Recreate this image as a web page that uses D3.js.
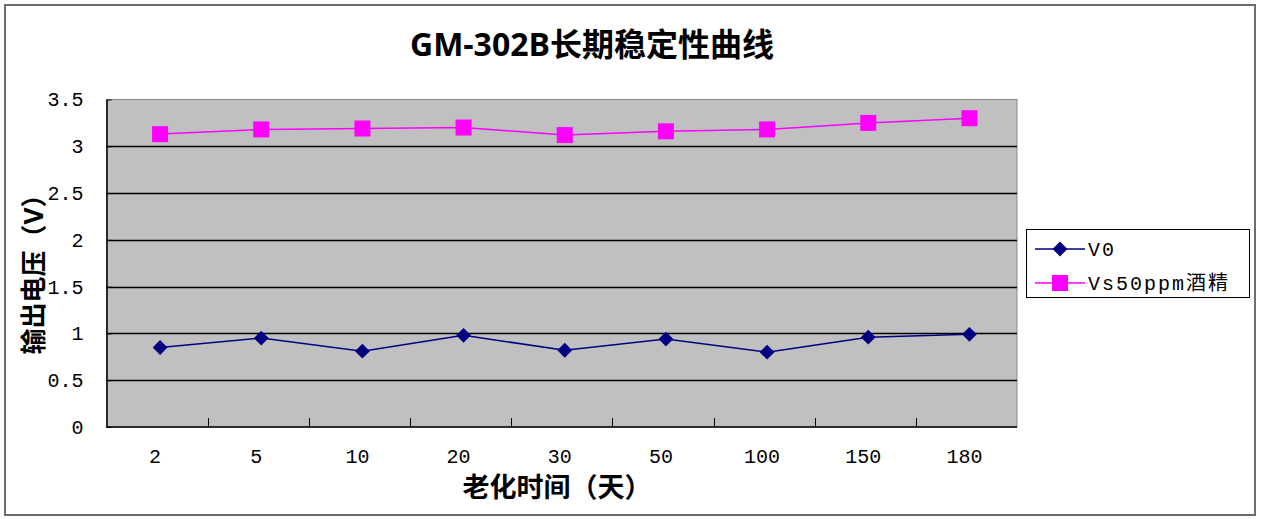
<!DOCTYPE html>
<html><head><meta charset="utf-8">
<script src="https://cdn.jsdelivr.net/npm/d3@7"></script>
<style>body{margin:0;background:#fff}svg{display:block}</style>
</head><body>
<script>
const categories = ["2","5","10","20","30","50","100","150","180"];
const v0 = [0.85,0.95,0.81,0.98,0.82,0.94,0.80,0.96,0.99];
const vs50 = [3.13,3.18,3.19,3.20,3.12,3.16,3.18,3.25,3.30];
const yTicks = [0,0.5,1,1.5,2,2.5,3,3.5];
const seriesNames = ["V0","Vs50ppm酒精"];
const title = "GM-302B长期稳定性曲线";
const xTitle = "老化时间（天）";
const yTitle = "输出电压（V）";

const W = 1261, H = 519;
const m = {left:106.5, right:1017, top:99.5, bottom:427};
const tickFont = "'Liberation Mono','Noto Sans CJK SC',monospace";
const cjkBold = "'Open Sans','Noto Sans CJK SC',sans-serif";

const svg = d3.select("body").append("svg").attr("width",W).attr("height",H);
svg.append("rect").attr("x",5).attr("y",5).attr("width",1250).attr("height",510)
  .attr("fill","#fff").attr("stroke","#6e6e6e").attr("stroke-width",2);

const x = d3.scaleBand().domain(categories).range([m.left,m.right]);
const y = d3.scaleLinear().domain([0,3.5]).range([m.bottom,m.top]);

svg.append("rect").attr("x",m.left).attr("y",m.top).attr("width",m.right-m.left).attr("height",m.bottom-m.top)
  .attr("fill","#c0c0c0").attr("stroke","#8a8a8a").attr("stroke-width",1);

// gridlines
svg.append("g").selectAll("line").data(yTicks.filter(d=>d>0&&d<3.5)).join("line")
  .attr("x1",m.left).attr("x2",m.right).attr("y1",d=>Math.round(y(d))+0.5).attr("y2",d=>Math.round(y(d))+0.5)
  .attr("stroke","#000").attr("stroke-width",1.3);

// y axis
const yAxis = svg.append("g").attr("transform",`translate(${m.left},0)`)
  .call(d3.axisLeft(y).tickValues(yTicks).tickFormat(d=>String(d)).tickSizeInner(-5).tickSizeOuter(0).tickPadding(23));
yAxis.select(".domain").attr("stroke","#000").attr("stroke-width",1.5);
yAxis.selectAll(".tick line").attr("stroke","#000");
yAxis.selectAll("text").attr("font-family",tickFont).attr("font-size",20).attr("fill","#000");

// x axis
const bounds = categories.slice(1).map(c=>x(c));
const xg = svg.append("g");
xg.append("line").attr("x1",m.left).attr("x2",m.right).attr("y1",m.bottom).attr("y2",m.bottom).attr("stroke","#000").attr("stroke-width",1.5);
xg.selectAll("line.t").data(bounds).join("line").attr("class","t")
  .attr("x1",d=>Math.round(d)+0.5).attr("x2",d=>Math.round(d)+0.5).attr("y1",m.bottom).attr("y2",m.bottom-9).attr("stroke","#000");
xg.selectAll("text").data(categories).join("text")
  .attr("x",d=>x(d)+x.bandwidth()/2-2).attr("y",m.bottom+36).attr("text-anchor","middle")
  .attr("font-family",tickFont).attr("font-size",20).text(d=>d);

const cx = d=>x(d)+x.bandwidth()/2+3;
const line = d3.line().x((d,i)=>cx(categories[i])).y(d=>y(d));

// V0
svg.append("path").datum(v0).attr("d",line).attr("fill","none").attr("stroke","#000080").attr("stroke-width",1.5);
svg.append("g").selectAll("path").data(v0).join("path")
  .attr("d",d3.symbol(d3.symbolSquare,110))
  .attr("transform",(d,i)=>`translate(${cx(categories[i])},${y(d)}) rotate(45)`)
  .attr("fill","#000080");
// Vs
svg.append("path").datum(vs50).attr("d",line).attr("fill","none").attr("stroke","#ff00ff").attr("stroke-width",1.5);
svg.append("g").selectAll("rect").data(vs50).join("rect")
  .attr("x",(d,i)=>cx(categories[i])-8).attr("y",d=>y(d)-8).attr("width",16).attr("height",16).attr("fill","#ff00ff");

// title
svg.append("text").attr("x",592).attr("y",56).attr("text-anchor","middle")
  .attr("font-family",cjkBold).attr("font-weight","bold").attr("font-size",32).text(title);
// axis titles
svg.append("text").attr("x",557).attr("y",497).attr("text-anchor","middle")
  .attr("font-family",cjkBold).attr("font-weight","bold").attr("font-size",27).text(xTitle);
svg.append("text").attr("transform","translate(43,268) rotate(-90)").attr("text-anchor","middle")
  .attr("font-family",cjkBold).attr("font-weight","bold").attr("font-size",26).text(yTitle);

// legend
const lg = svg.append("g");
lg.append("rect").attr("x",1026.5).attr("y",229.5).attr("width",223).attr("height",68).attr("fill","#fff").attr("stroke","#000").attr("stroke-width",1);
const ly = [249,283];
const colors = ["#000080","#ff00ff"];
seriesNames.forEach((n,i)=>{
  lg.append("line").attr("x1",1035).attr("x2",1085).attr("y1",ly[i]).attr("y2",ly[i]).attr("stroke",colors[i]).attr("stroke-width",1.5);
  if(i===0) lg.append("path").attr("d",d3.symbol(d3.symbolSquare,110)).attr("transform",`translate(1060,${ly[i]}) rotate(45)`).attr("fill",colors[i]);
  else lg.append("rect").attr("x",1052).attr("y",ly[i]-8).attr("width",16).attr("height",16).attr("fill",colors[i]);
  lg.append("text").attr("x",1088).attr("y",ly[i]+7).attr("font-family",tickFont).attr("font-size",20).attr("letter-spacing","2px").text(n);
});
</script>
</body></html>
